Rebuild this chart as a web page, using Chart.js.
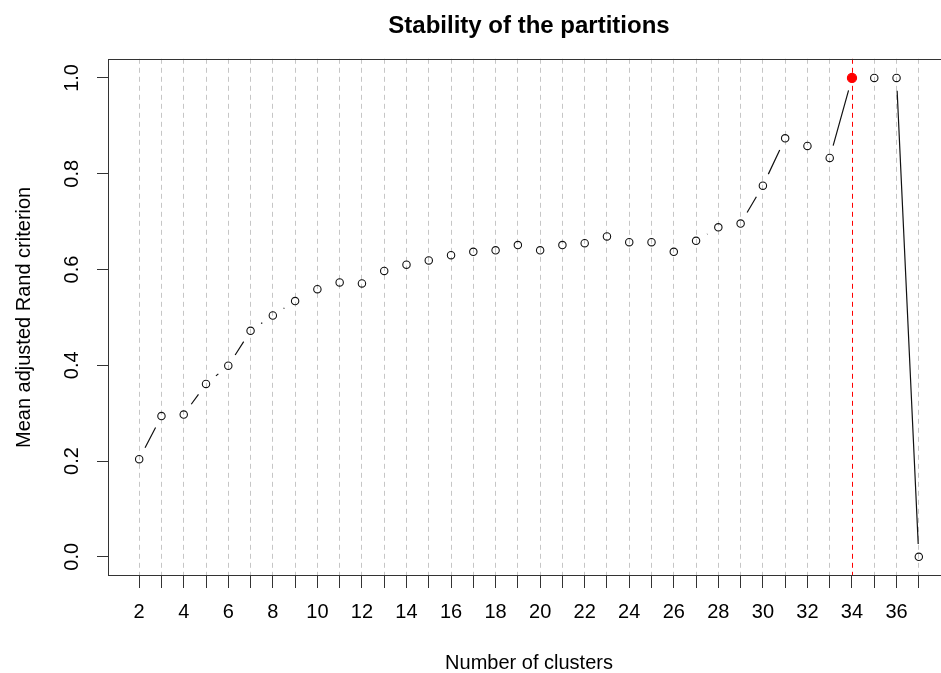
<!DOCTYPE html>
<html>
<head>
<meta charset="utf-8">
<title>Stability of the partitions</title>
<script src="https://cdn.jsdelivr.net/npm/chart.js@4/dist/chart.umd.min.js"></script>
<style>
  html, body { margin: 0; padding: 0; background: #ffffff; overflow: hidden; }
  #wrap { width: 1058px; height: 673px; }
</style>
</head>
<body>
<div id="wrap"><canvas id="stab" width="1058" height="673"></canvas></div>
<script>
// Number of clusters tested
const clusters = [2, 3, 4, 5, 6, 7, 8, 9, 10, 11, 12, 13, 14, 15, 16, 17, 18, 19,
                  20, 21, 22, 23, 24, 25, 26, 27, 28, 29, 30, 31, 32, 33, 34, 35, 36, 37];
// Mean adjusted Rand criterion for each number of clusters
const meanAdjRand = [0.204, 0.294, 0.297, 0.361, 0.399, 0.472, 0.504, 0.534, 0.559,
                     0.573, 0.571, 0.597, 0.610, 0.619, 0.630, 0.637, 0.640, 0.651,
                     0.640, 0.651, 0.655, 0.669, 0.657, 0.657, 0.637, 0.660, 0.688,
                     0.696, 0.775, 0.874, 0.858, 0.833, 1.000, 1.000, 1.000, 0.000];
// Axis ticks
const xGridValues = [2, 3, 4, 5, 6, 7, 8, 9, 10, 11, 12, 13, 14, 15, 16, 17, 18, 19, 20,
                     21, 22, 23, 24, 25, 26, 27, 28, 29, 30, 31, 32, 33, 34, 35, 36, 37, 38];
const xTickLabels = [2, 4, 6, 8, 10, 12, 14, 16, 18, 20, 22, 24, 26, 28, 30, 32, 34, 36];
const yTickValues = [0.0, 0.2, 0.4, 0.6, 0.8, 1.0];

// best partition = first maximum of the criterion
const bestK = clusters[meanAdjRand.indexOf(Math.max(...meanAdjRand))];
const lastK = clusters[clusters.length - 1];

const FONT = '"Liberation Sans", Arial, Helvetica, sans-serif';
const AXIS_COLOR = '#333333';
const GRID_COLOR = '#c6c6c6';
const BEST_COLOR = '#ff0000';

// R-style "b" lines: segments joining the points, with a gap around each point
const gappedLines = {
  id: 'gappedLines',
  beforeDatasetsDraw(chart) {
    const pts = chart.getDatasetMeta(0).data;
    const gap = 12.8;
    const ctx = chart.ctx;
    ctx.save();
    ctx.strokeStyle = '#111111';
    ctx.lineWidth = 1.2;
    ctx.beginPath();
    for (let i = 0; i < pts.length - 1; i++) {
      const a = pts[i], b = pts[i + 1];
      const dx = b.x - a.x, dy = b.y - a.y;
      const d = Math.hypot(dx, dy);
      if (d <= 2 * gap) continue;
      const ux = dx / d, uy = dy / d;
      ctx.moveTo(a.x + ux * gap, a.y + uy * gap);
      ctx.lineTo(b.x - ux * gap, b.y - uy * gap);
    }
    ctx.stroke();
    ctx.restore();
  }
};

// dashed red marker at the selected number of clusters
const bestLine = {
  id: 'bestLine',
  beforeDatasetsDraw(chart) {
    const x = Math.round(chart.scales.x.getPixelForValue(bestK)) + 0.5;
    const {top, bottom} = chart.chartArea;
    const ctx = chart.ctx;
    ctx.save();
    ctx.strokeStyle = BEST_COLOR;
    ctx.lineWidth = 1;
    ctx.setLineDash([5, 4]);
    ctx.beginPath();
    ctx.moveTo(x, top);
    ctx.lineTo(x, bottom);
    ctx.stroke();
    ctx.restore();
  }
};

// frame around the plotting region
const plotBox = {
  id: 'plotBox',
  afterDatasetsDraw(chart) {
    const {left, top, right, bottom} = chart.chartArea;
    const ctx = chart.ctx;
    ctx.save();
    ctx.strokeStyle = AXIS_COLOR;
    ctx.lineWidth = 1;
    ctx.strokeRect(Math.round(left) + 0.5, Math.round(top) + 0.5,
                   Math.round(right - left), Math.round(bottom - top) - 1);
    ctx.restore();
  }
};

new Chart(document.getElementById('stab'), {
  type: 'line',
  data: {
    datasets: [{
      label: 'Mean adjusted Rand criterion',
      data: clusters.map((k, i) => ({x: k, y: meanAdjRand[i]})),
      showLine: false,
      pointRadius: clusters.map(k => k === bestK ? 4.6 : 3.7),
      pointBorderWidth: 1.1,
      pointBorderColor: clusters.map(k => k === bestK ? BEST_COLOR : '#111111'),
      pointBackgroundColor: clusters.map(k => k === bestK ? BEST_COLOR : 'rgba(0,0,0,0)'),
      pointHoverRadius: 4
    }]
  },
  options: {
    responsive: false,
    animation: false,
    devicePixelRatio: 1,
    layout: { padding: 0 },
    plugins: {
      legend: { display: false },
      tooltip: { enabled: false },
      title: {
        display: true,
        text: 'Stability of the partitions',
        color: '#000000',
        font: { family: FONT, size: 24, weight: 'bold' },
        padding: { top: 12, bottom: 18 }
      }
    },
    scales: {
      x: {
        type: 'linear',
        min: 0.6,
        max: 38.4,
        afterBuildTicks: s => { s.ticks = xGridValues.map(v => ({value: v})); },
        afterFit: s => { s.height = 97; s.paddingRight = 108; },
        ticks: {
          autoSkip: false,
          maxRotation: 0,
          minRotation: 0,
          padding: 12,
          color: '#000000',
          font: { family: FONT, size: 20 },
          callback: v => xTickLabels.includes(v) ? String(v) : ''
        },
        grid: {
          drawOnChartArea: true,
          drawTicks: true,
          tickLength: 12,
          lineWidth: 1,
          color: xGridValues.map(v => v === bestK ? 'rgba(0,0,0,0)' : GRID_COLOR),
          tickColor: xGridValues.map(v => v > lastK ? 'rgba(0,0,0,0)' : AXIS_COLOR),
          tickWidth: 1
        },
        border: { display: false, dash: [5, 4] },
        title: {
          display: true,
          text: 'Number of clusters',
          color: '#000000',
          font: { family: FONT, size: 20, lineHeight: 1 },
          padding: { top: 0, bottom: 0 }
        }
      },
      y: {
        type: 'linear',
        min: -0.04,
        max: 1.04,
        afterBuildTicks: s => { s.ticks = yTickValues.map(v => ({value: v})); },
        afterFit: s => { s.width = 108; },
        ticks: {
          minRotation: 90,
          maxRotation: 90,
          crossAlign: 'center',
          padding: 11,
          color: '#000000',
          font: { family: FONT, size: 20 },
          callback: v => Number(v).toFixed(1)
        },
        grid: {
          drawOnChartArea: false,
          drawTicks: true,
          tickLength: 11,
          tickColor: AXIS_COLOR,
          tickWidth: 1
        },
        border: { display: false },
        title: {
          display: true,
          text: 'Mean adjusted Rand criterion',
          color: '#000000',
          font: { family: FONT, size: 20, lineHeight: 1 },
          padding: { top: 14, bottom: 0 }
        }
      }
    }
  },
  plugins: [bestLine, gappedLines, plotBox]
});
</script>
</body>
</html>
